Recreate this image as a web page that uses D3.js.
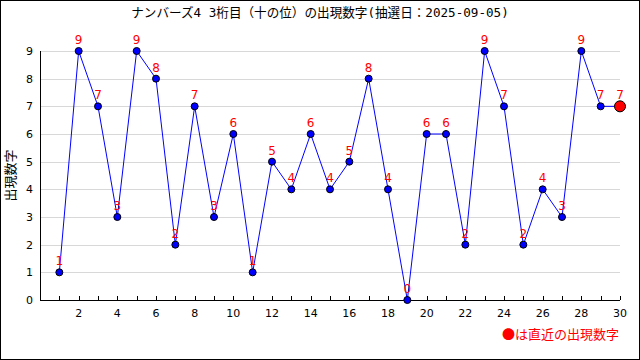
<!DOCTYPE html>
<html><head><meta charset="utf-8">
<script src="https://cdn.jsdelivr.net/npm/d3@7"></script>
<style>body{margin:0;background:#fff}svg{display:block}</style>
</head><body>
<svg id="c" width="640" height="360"></svg>
<script>
const draws = [1,2,3,4,5,6,7,8,9,10,11,12,13,14,15,16,17,18,19,20,21,22,23,24,25,26,27,28,29,30];
const values = [1,9,7,3,9,8,2,7,3,6,1,5,4,6,4,5,8,4,0,6,6,2,9,7,2,4,3,9,7,7];
const xTickLabels = [2,4,6,8,10,12,14,16,18,20,22,24,26,28,30];
const yTickLabels = [0,1,2,3,4,5,6,7,8,9];
const title = "ナンバーズ4 3桁目（十の位）の出現数字(抽選日：2025-09-05)";
const yTitle = "出現数字";
const legendText = "●は直近の出現数字";

const svg = d3.select("#c");
const W = 640, H = 360;
const x = d3.scaleLinear().domain([0, 30]).range([40, 620]);
const y = d3.scaleLinear().domain([0, 9]).range([300, 51]);
const jp = "'Noto Sans CJK JP', sans-serif";
const mono = "'DejaVu Sans Mono', 'Noto Sans CJK JP', monospace";
const num = "'DejaVu Sans', sans-serif";

svg.append("rect").attr("x",0.5).attr("y",0.5).attr("width",W-1).attr("height",H-1)
  .attr("fill","#fff").attr("stroke","#000");

// grid
svg.append("g").selectAll("line").data(yTickLabels.filter(d=>d>0)).join("line")
  .attr("x1", x(0)).attr("x2", x(30))
  .attr("y1", d=>Math.round(y(d))+0.5).attr("y2", d=>Math.round(y(d))+0.5)
  .attr("stroke","#d8d8d8");

// y axis
svg.append("line").attr("x1",40.5).attr("x2",40.5).attr("y1",y(9)).attr("y2",y(0)).attr("stroke","#000");
svg.append("g").selectAll("text").data(yTickLabels).join("text")
  .attr("x", 33).attr("y", d=>y(d)+4).attr("text-anchor","end")
  .attr("font-family", num).attr("font-size", 11).text(d=>d);

// x axis
svg.append("line").attr("x1",x(0)).attr("x2",x(30)).attr("y1",300.5).attr("y2",300.5).attr("stroke","#000");
svg.append("g").selectAll("line").data(draws).join("line")
  .attr("x1", d=>Math.round(x(d))+0.5).attr("x2", d=>Math.round(x(d))+0.5)
  .attr("y1", 296).attr("y2", 300).attr("stroke","#000");
svg.append("g").selectAll("text").data(xTickLabels).join("text")
  .attr("x", d=>x(d)).attr("y", 317).attr("text-anchor","middle")
  .attr("font-family", num).attr("font-size", 11).text(d=>d);

// line
const pts = draws.map((d,i)=>({d, v: values[i]}));
svg.append("path").datum(pts)
  .attr("d", d3.line().x(p=>x(p.d)).y(p=>y(p.v)))
  .attr("fill","none").attr("stroke","#0000ff").attr("stroke-width",1);

// points
svg.append("g").selectAll("circle").data(pts).join("circle")
  .attr("cx", p=>x(p.d)).attr("cy", p=>y(p.v))
  .attr("r", (p,i)=> i===pts.length-1 ? 5.5 : 3.5)
  .attr("fill", (p,i)=> i===pts.length-1 ? "#ff0000" : "#0000ff")
  .attr("stroke", "#000").attr("stroke-width", 1);

// value labels
svg.append("g").selectAll("text").data(pts).join("text")
  .attr("x", p=>x(p.d)).attr("y", p=>y(p.v)-7).attr("text-anchor","middle")
  .attr("font-family", num).attr("font-size", 12).attr("fill","#ff0000").text(p=>p.v);

// title
svg.append("text").attr("x", 320).attr("y", 17).attr("text-anchor","middle")
  .attr("font-family", mono).attr("font-size", 12.6).text(title);

// y title
svg.append("text").attr("transform", `translate(15,${(y(0)+y(9))/2}) rotate(-90)`)
  .attr("text-anchor","middle").attr("font-family", jp).attr("font-size", 13).text(yTitle);

// legend
svg.append("text").attr("x", 619).attr("y", 339).attr("text-anchor","end")
  .attr("font-family", jp).attr("font-size", 13).attr("fill","#ff0000").text(legendText);
</script>
</body></html>
